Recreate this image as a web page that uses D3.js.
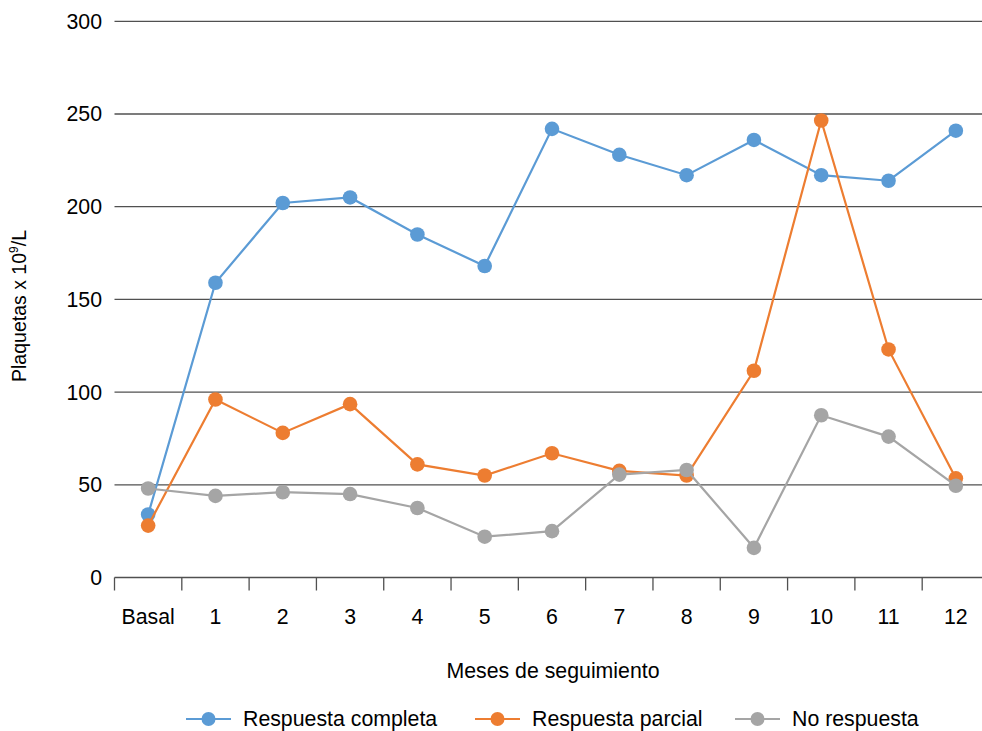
<!DOCTYPE html>
<html>
<head>
<meta charset="utf-8">
<script src="https://cdn.jsdelivr.net/npm/d3@7/dist/d3.min.js"></script>
<style>
  html, body { margin: 0; padding: 0; background: #fff; }
  svg { display: block; font-family: "Liberation Sans", Arial, sans-serif; }
</style>
</head>
<body>
<svg id="chart" width="982" height="731"></svg>
<script>
// Follow-up months
const months = ["Basal", "1", "2", "3", "4", "5", "6", "7", "8", "9", "10", "11", "12"];

// Platelet counts (x 10^9/L) per response group
const completa = [34, 159, 202, 205, 185, 168, 242, 228, 217, 236, 217, 214, 241];
const parcial  = [28, 96, 78, 93.5, 61, 55, 67, 57.5, 55, 111.5, 246.5, 123, 53.5];
const noResp   = [48, 44, 46, 45, 37.5, 22, 25, 55.5, 58, 16, 87.5, 76, 49.5];

const yTicks = [0, 50, 100, 150, 200, 250, 300];

const seriesNames = ["Respuesta completa", "Respuesta parcial", "No respuesta"];
const seriesColors = ["#5B9BD5", "#ED7D31", "#A5A5A5"];
const seriesValues = [completa, parcial, noResp];

const svg = d3.select("#chart");
const font = 21.3;

const x = d3.scaleBand().domain(months).range([114.5, 989.5]);
const y = d3.scaleLinear().domain([0, 300]).range([577.5, 21.3]);

// Horizontal gridlines
svg.append("g")
  .selectAll("line")
  .data(yTicks.filter(d => d > 0))
  .join("line")
  .attr("x1", 114.5).attr("x2", 982)
  .attr("y1", d => y(d)).attr("y2", d => y(d))
  .attr("stroke", "#505050").attr("stroke-width", 1.3);

// Y axis labels
svg.append("g")
  .selectAll("text")
  .data(yTicks)
  .join("text")
  .attr("x", 102).attr("y", d => y(d))
  .attr("dy", "0.35em")
  .attr("text-anchor", "end")
  .attr("font-size", font)
  .attr("fill", "#000")
  .text(d => d);

// X axis with tick marks at band boundaries
const xAxis = svg.append("g");
xAxis.append("line")
  .attr("x1", 114.5).attr("x2", 982)
  .attr("y1", y(0)).attr("y2", y(0))
  .attr("stroke", "#505050").attr("stroke-width", 1.3);
xAxis.selectAll("line.tick")
  .data(months)
  .join("line")
  .attr("class", "tick")
  .attr("x1", d => x(d)).attr("x2", d => x(d))
  .attr("y1", y(0)).attr("y2", y(0) + 13)
  .attr("stroke", "#505050").attr("stroke-width", 1.3);
xAxis.selectAll("text")
  .data(months)
  .join("text")
  .attr("x", d => x(d) + x.bandwidth() / 2)
  .attr("y", 624)
  .attr("text-anchor", "middle")
  .attr("font-size", font)
  .attr("fill", "#000")
  .text(d => d);

// Axis titles
svg.append("text")
  .attr("x", 553).attr("y", 678)
  .attr("text-anchor", "middle")
  .attr("font-size", font)
  .text("Meses de seguimiento");

const yTitle = svg.append("text")
  .attr("transform", "translate(26,306) rotate(-90)")
  .attr("text-anchor", "middle")
  .attr("font-size", 19.5);
yTitle.append("tspan").text("Plaquetas x 10");
yTitle.append("tspan").attr("font-size", 12).attr("dy", -8).text("9");
yTitle.append("tspan").attr("dy", 8).text("/L");

// Series lines and markers
const cx = d => x(d) + x.bandwidth() / 2;
const line = d3.line()
  .x((v, i) => cx(months[i]))
  .y(v => y(v));

seriesValues.forEach((vals, s) => {
  const g = svg.append("g");
  g.append("path")
    .datum(vals)
    .attr("d", line)
    .attr("fill", "none")
    .attr("stroke", seriesColors[s])
    .attr("stroke-width", 2.2);
  g.selectAll("circle")
    .data(vals)
    .join("circle")
    .attr("cx", (v, i) => cx(months[i]))
    .attr("cy", v => y(v))
    .attr("r", 7.3)
    .attr("fill", seriesColors[s]);
});

// Legend
const legendX = [186, 475, 735];
const legend = svg.append("g");
seriesNames.forEach((name, s) => {
  const lx = legendX[s];
  const ly = 719;
  legend.append("line")
    .attr("x1", lx).attr("x2", lx + 45)
    .attr("y1", ly).attr("y2", ly)
    .attr("stroke", seriesColors[s]).attr("stroke-width", 2.2);
  legend.append("circle")
    .attr("cx", lx + 22.5).attr("cy", ly).attr("r", 7)
    .attr("fill", seriesColors[s]);
  legend.append("text")
    .attr("x", lx + 57).attr("y", ly)
    .attr("dy", "0.35em")
    .attr("font-size", font)
    .text(name);
});
</script>
</body>
</html>
